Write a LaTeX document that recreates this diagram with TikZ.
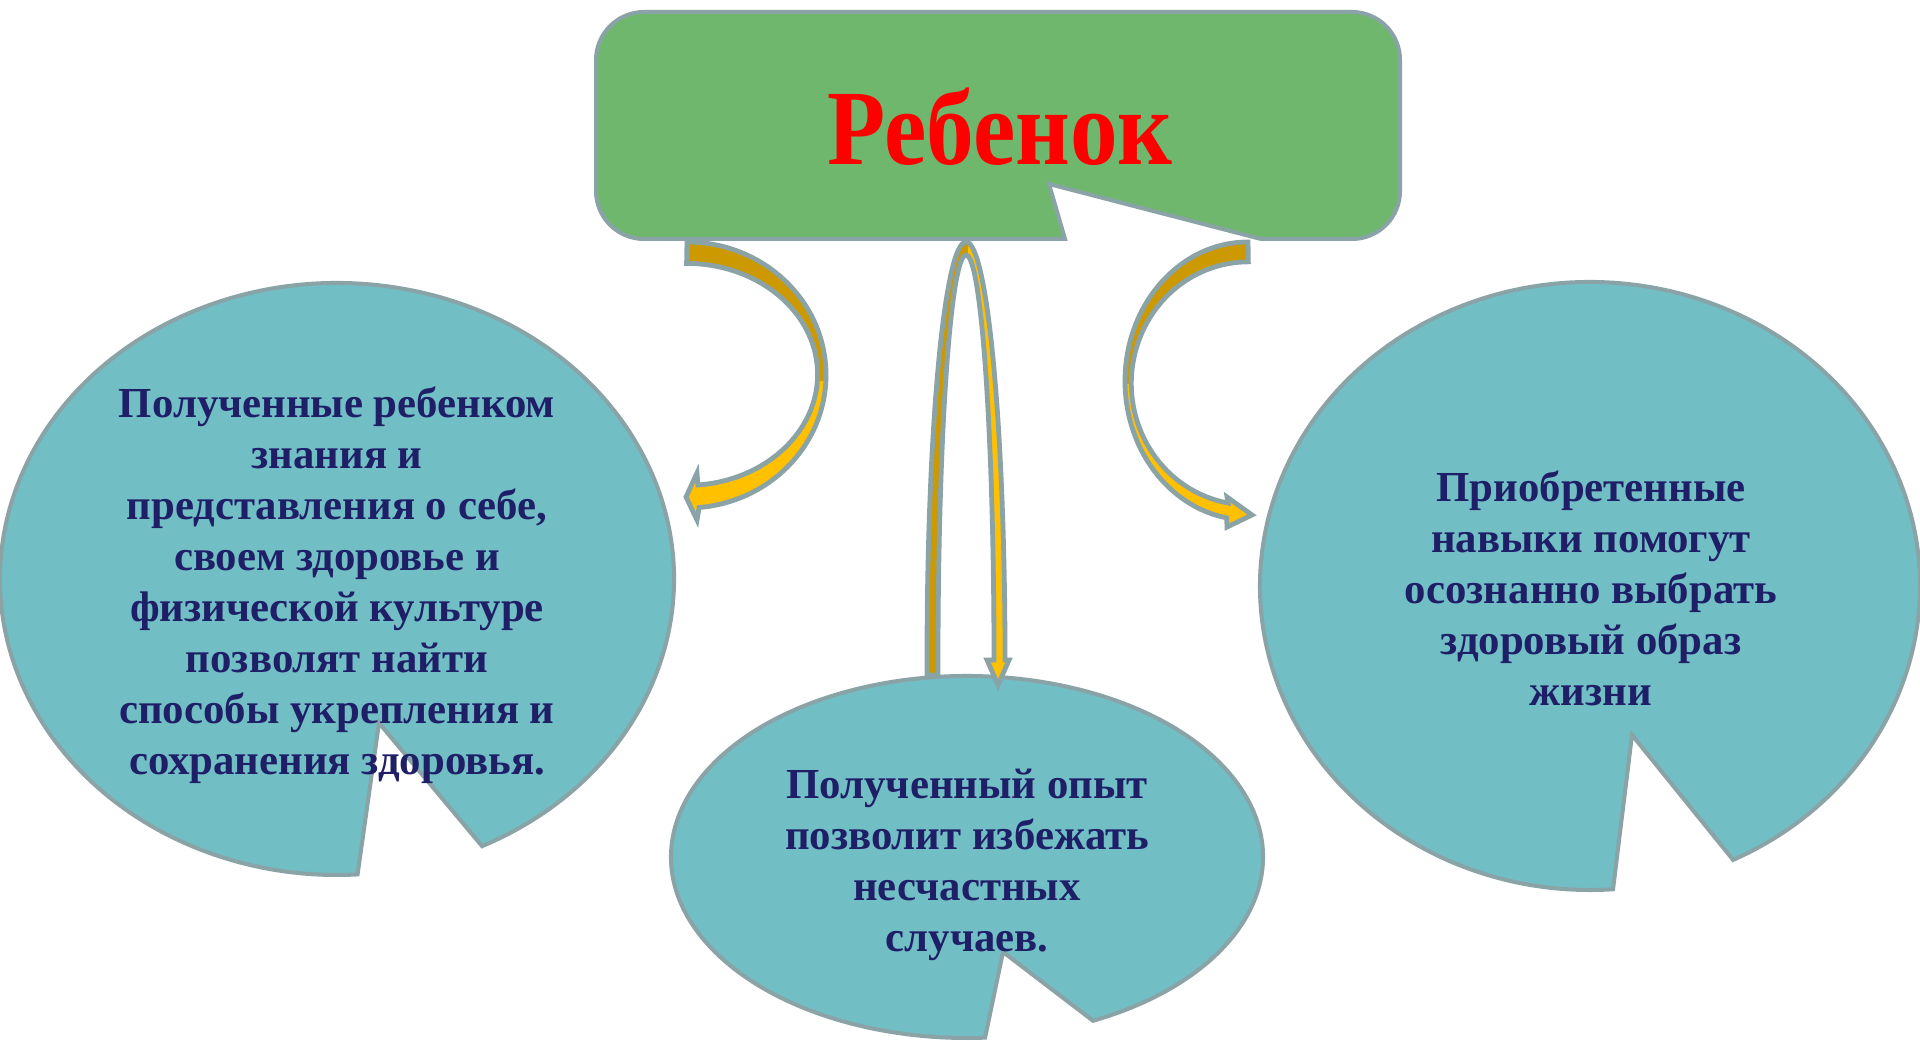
\documentclass[tikz,border=0pt]{standalone}
\usepackage{fontspec}
\setmainfont{Liberation Serif}
\definecolor{boxgreen}{RGB}{112,183,110}
\definecolor{bubbleteal}{RGB}{114,190,197}
\definecolor{edgegrey}{RGB}{138,163,166}
\definecolor{golddark}{RGB}{204,153,0}
\definecolor{goldlight}{RGB}{255,192,0}
\definecolor{navytext}{RGB}{31,31,104}
\tikzset{
  outl/.style={draw=edgegrey, line width=2pt, line join=miter},
  titlebox/.style={outl, fill=boxgreen},
  bubble/.style={outl, fill=bubbleteal},
  goldarrow/.style={outl, line width=2.4pt, fill=goldlight},
  upperdark/.style={path picture={\fill[golddark] (path picture bounding box.north west) rectangle (path picture bounding box.east);}},
  leftdark/.style={path picture={\fill[golddark] (path picture bounding box.north west) rectangle (path picture bounding box.south);}},
  bubbletext/.style={align=center, text=navytext, font=\fontsize{21.4}{25.5}\selectfont\bfseries},
  titletext/.style={text=red, font=\fontsize{53.5}{60}\selectfont\bfseries, xscale=.89}
}
\begin{document}
\begin{tikzpicture}[x=.5pt, y=.5pt]
  \useasboundingbox[fill=white] (0,0) rectangle (1920,1040);
  % title box with notch
  \draw[titlebox] (1065,801) -- (644,801) arc[start angle=270, end angle=180, radius=48]
    -- (596,980) arc[start angle=180, end angle=90, radius=48]
    -- (1352,1028) arc[start angle=90, end angle=0, radius=48]
    -- (1400,849) arc[start angle=0, end angle=-90, radius=48]
    -- (1261,801) -- (1049,856) -- cycle;
  \node[titletext, anchor=base] (child) at (1000,875) {Ребенок};
  % bubbles
  \draw[bubble] (337,461) ++(-64.5:337 and 296)
    arc[start angle=-64.5, end angle=273.5, x radius=337, y radius=296] -- (379,317) -- cycle;
  \draw[bubble] (967,183) ++(-64.8:296 and 181)
    arc[start angle=-64.8, end angle=273.5, x radius=296, y radius=181] -- (1003,88) -- cycle;
  \draw[bubble] (1590,454) ++(-64.3:330 and 304)
    arc[start angle=-64.3, end angle=274, x radius=330, y radius=304] -- (1632,305) -- cycle;
  % curved arrows
  \draw[goldarrow, upperdark] (687,798) arc[start angle=90, end angle=-85, x radius=139, y radius=133]
    -- (697,520) -- (686,543) -- (697,567) -- (698,555)
    arc[start angle=-85, end angle=90, x radius=131, y radius=111] -- cycle;
  \draw[goldarrow, upperdark] (1248,798) arc[start angle=90, end angle=260, x radius=123, y radius=139]
    -- (1227,513) -- (1252,525) -- (1227,543) -- (1228,537)
    arc[start angle=260, end angle=90, x radius=117, y radius=121.5] -- cycle;
  \draw[goldarrow, leftdark] (927,365) -- (927,380) arc[start angle=180, end angle=0, x radius=39, y radius=418]
    -- (1009,380) -- (998,355) -- (987,380) -- (994,380)
    arc[start angle=0, end angle=180, x radius=28, y radius=405] -- (938,365) -- cycle;
  % texts
  \node[bubbletext] (knowledge) at (337,455) {Полученные ребенком\\знания и\\представления о себе,\\своем здоровье и\\физической культуре\\позволят найти\\способы укрепления и\\сохранения здоровья.};
  \node[bubbletext] (experience) at (967,175) {Полученный опыт\\позволит избежать\\несчастных\\случаев.};
  \node[bubbletext] (skills) at (1591,452) {Приобретенные\\навыки помогут\\осознанно выбрать\\здоровый образ\\жизни};
\end{tikzpicture}
\end{document}
